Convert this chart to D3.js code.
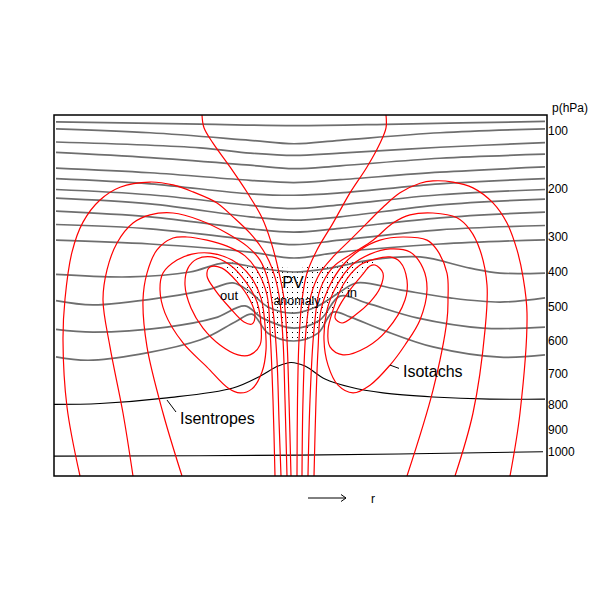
<!DOCTYPE html>
<html><head><meta charset="utf-8">
<script src="https://cdn.jsdelivr.net/npm/d3@7"></script>
<style>body{margin:0;background:#fff}svg{display:block}text{font-family:"Liberation Sans",Arial,sans-serif;fill:#000}</style>
</head><body><div id="chart"></div>
<script>
// ---------------- DATA (r: radial distance, arbitrary units; p: pressure hPa) ----------------
const pressureTicks = [100,200,300,400,500,600,700,800,900,1000];
const pressureKnots = [70,100,200,300,400,500,600,700,800,900,1000,1100];
const rExtent = [-240, 253];

// grey isentropes (top to bottom)
const isentropesGrey = [
  [[-238,83],[-94,87],[0,90],[106,87],[251,82]],
  [[-238,96],[-144,103],[-44,116],[0,122],[46,116],[146,103],[251,96]],
  [[-238,119],[-94,129],[-44,138],[0,142],[46,138],[146,128],[251,120]],
  [[-238,137],[-144,146],[-44,159],[0,165],[46,160],[146,147],[251,140]],
  [[-238,164],[-144,172],[-44,185],[0,189],[46,184],[146,171],[251,162]],
  [[-238,182],[-144,191],[-44,210],[0,213],[46,208],[146,191],[251,182]],
  [[-238,201],[-144,212],[-44,234],[0,241],[46,233],[146,212],[251,201]],
  [[-238,219],[-144,231],[-44,258],[0,265],[46,258],[146,233],[251,221]],
  [[-238,246],[-144,258],[-44,283],[0,290],[46,282],[146,260],[251,248]],
  [[-238,274],[-144,283],[-44,308],[0,322],[46,309],[146,285],[251,276]],
  [[-238,309],[-144,320],[-44,343],[0,360],[46,343],[146,320],[251,308]],
  [[-238,407],[-164,414],[-104,400],[-69,374],[-34,389],[0,400],[36,389],[76,366],[126,357],[176,389],[206,403],[251,403]],
  [[-238,482],[-201,494],[-127,471],[-84,449],[-61,431],[-44,457],[-26,500],[0,518],[24,497],[46,457],[63,431],[106,451],[156,474],[206,486],[251,474]],
  [[-238,566],[-201,574],[-127,559],[-79,532],[-49,497],[-32,532],[0,562],[26,538],[46,469],[73,489],[123,532],[189,562],[251,559]],
  [[-238,648],[-201,658],[-94,597],[-59,544],[-42,521],[-26,577],[0,600],[24,577],[39,515],[56,529],[89,568],[139,618],[206,649],[251,642]]
];
// black isentropes
const isentropesBlack = [
  [[-240,798],[-194,795],[-127,777],[-61,745],[-34,707],[-16,676],[-3,665],[11,676],[31,716],[56,742],[89,761],[139,774],[196,781],[251,781]],
  [[-240,1017],[6,1013],[249,999]]
];
// open isotachs
const isotachsOpen = [
  [[-92,70],[-90,94],[-81,121],[-64,162],[-46,210],[-32,260],[-23,314],[-16,389],[-10,477],[-7,597],[-5,784],[-3,1100]],
  [[92,70],[92,94],[86,121],[73,162],[56,208],[39,271],[23,337],[13,403],[8,480],[5,597],[3.5,784],[3,1100]],
  [[-214,1100],[-227,808],[-231,597],[-229,477],[-222,343],[-211,269],[-194,223],[-174,197],[-144,188],[-121,193],[-101,206],[-77,229],[-61,258],[-44,292],[-31,337],[-22,389],[-15,466],[-11,597],[-9,784],[-7,1100]],
  [[216,1100],[226,832],[233,518],[229,414],[223,337],[213,271],[199,229],[179,198],[159,188],[139,186],[126,190],[106,208],[89,238],[73,271],[56,309],[39,357],[26,403],[17,466],[12,568],[9,784],[8,1100]],
  [[-161,1100],[-171,832],[-184,618],[-191,480],[-187,394],[-177,317],[-161,271],[-144,254],[-121,250],[-94,265],[-67,292],[-47,326],[-34,366],[-26,423],[-21,509],[-17,658],[-15,860],[-13,1100]],
  [[161,1100],[179,832],[191,568],[193,437],[186,337],[176,285],[163,260],[139,250],[116,254],[99,271],[79,309],[59,346],[39,386],[26,451],[20,568],[16,784],[14,1100]],
  [[-112,1100],[-131,832],[-147,618],[-151,480],[-147,403],[-137,337],[-121,303],[-107,300],[-87,309],[-67,326],[-49,354],[-36,400],[-27,466],[-24,568],[-21,784],[-19,1100]],
  [[113,1100],[139,752],[153,538],[154,480],[153,403],[143,337],[133,309],[109,300],[86,309],[66,337],[49,380],[36,437],[27,509],[24,627],[22,784],[20,1100]]
];
// closed isotach loops (jet maxima)
const isotachsClosed = [
  [[-87,411],[-84,386],[-72,389],[-56,431],[-44,480],[-39,524],[-42,550],[-50,544],[-64,503],[-79,451]],
  [[-109,437],[-106,389],[-97,363],[-82,357],[-64,380],[-48,429],[-37,486],[-33,553],[-34,612],[-44,642],[-56,642],[-74,612],[-91,562],[-103,503]],
  [[-134,451],[-131,403],[-117,366],[-102,349],[-84,346],[-62,366],[-44,411],[-33,474],[-29,553],[-28,627],[-32,694],[-42,748],[-54,761],[-66,745],[-87,679],[-111,606],[-129,518]],
  [[81,380],[89,403],[86,446],[76,486],[61,524],[48,547],[41,532],[46,494],[56,451],[68,409],[76,383]],
  [[66,380],[81,363],[96,357],[106,371],[113,423],[111,480],[93,568],[73,618],[49,642],[36,618],[34,568],[39,509],[49,437]],
  [[58,380],[76,349],[96,334],[116,343],[129,389],[133,451],[126,538],[111,612],[96,673],[76,736],[59,761],[44,736],[34,673],[30,597],[33,509],[43,437]]
];
// PV anomaly outline
const pvAnomaly = [[-68,377],[-34,380],[0,389],[36,377],[82,369],[71,394],[56,431],[44,480],[31,544],[16,588],[0,600],[-16,591],[-29,553],[-41,494],[-54,440],[-64,400]];
// text annotations [label, r, p, size, anchor]
const labels = [
  ["PV", -1, 445, 16, "middle"],
  ["anomaly", 3, 494, 12.5, "middle"],
  ["out", -65, 480, 13, "middle"],
  ["in", 58, 471, 13, "middle"],
  ["Isotachs", 109, 710, 16, "start"],
  ["Isentropes", -114, 876, 16, "start"]
];
const leaders = [
  [[96,673],[105,683]],
  [[-127,784],[-118,828]]
];

// ---------------- CHART ----------------
const W = 600, H = 600;
const svg = d3.select("#chart").append("svg").attr("width", W).attr("height", H);
const x = d3.scaleLinear().domain(rExtent).range([54, 547]);
const y = d3.scaleLinear().domain(pressureKnots).range([115,131,189,237,272,307,341,374,405,430,452,476]);

const defs = svg.append("defs");
defs.append("clipPath").attr("id","frame").append("rect")
  .attr("x", x(rExtent[0])).attr("y", y(70)).attr("width", x(rExtent[1]) - x(rExtent[0])).attr("height", y(1100) - y(70));
const pat = defs.append("pattern").attr("id","dots").attr("patternUnits","userSpaceOnUse")
  .attr("width",5).attr("height",5);
pat.append("rect").attr("x",2).attr("y",2).attr("width",1).attr("height",1).attr("fill","#000");

const g = svg.append("g").attr("clip-path","url(#frame)");
const line = d3.line().x(d => x(d[0])).y(d => y(d[1])).curve(d3.curveCatmullRom.alpha(0.5));
const loop = d3.line().x(d => x(d[0])).y(d => y(d[1])).curve(d3.curveCatmullRomClosed.alpha(0.5));

g.append("path").attr("d", loop(pvAnomaly)).attr("fill","url(#dots)").attr("stroke","none");

g.selectAll(".isg").data(isentropesGrey).join("path").attr("class","isg")
  .attr("d", line).attr("fill","none").attr("stroke","#6e6e6e").attr("stroke-width",1.7);
g.selectAll(".isb").data(isentropesBlack).join("path").attr("class","isb")
  .attr("d", line).attr("fill","none").attr("stroke","#000").attr("stroke-width",1.1);
g.selectAll(".ito").data(isotachsOpen).join("path").attr("class","ito")
  .attr("d", line).attr("fill","none").attr("stroke","#ff0000").attr("stroke-width",1.2);
g.selectAll(".itc").data(isotachsClosed).join("path").attr("class","itc")
  .attr("d", loop).attr("fill","none").attr("stroke","#ff0000").attr("stroke-width",1.2);

svg.selectAll(".lead").data(leaders).join("path").attr("class","lead")
  .attr("d", d3.line().x(d => x(d[0])).y(d => y(d[1]))).attr("stroke","#000").attr("stroke-width",1).attr("fill","none");
svg.selectAll(".lbl").data(labels).join("text").attr("class","lbl")
  .attr("x", d => x(d[1])).attr("y", d => y(d[2])).attr("font-size", d => d[3]).attr("text-anchor", d => d[4])
  .text(d => d[0]);

// frame
svg.append("rect").attr("x", x(rExtent[0])).attr("y", y(70)).attr("width", x(rExtent[1]) - x(rExtent[0])).attr("height", y(1100) - y(70))
  .attr("fill","none").attr("stroke","#000").attr("stroke-width",1.5);

// pressure axis (right, labels only)
const ax = svg.append("g").attr("transform", `translate(${x(rExtent[1])},0)`)
  .call(d3.axisRight(y).tickValues(pressureTicks).tickSize(0).tickPadding(1).tickFormat(d3.format("d")));
ax.select(".domain").remove();
ax.selectAll("text").attr("font-size",12).attr("font-family","Liberation Sans, Arial, sans-serif").attr("fill","#000");
svg.append("text").attr("x", x(rExtent[1]) + 5).attr("y", y(70) - 3).attr("font-size",12).text("p(hPa)");

// r arrow
const ay = 498, ax0 = 308, ax1 = 346;
svg.append("line").attr("x1",ax0).attr("x2",ax1).attr("y1",ay).attr("y2",ay).attr("stroke","#000").attr("stroke-width",1);
svg.append("path").attr("d",`M${ax1-5},${ay-3.5}L${ax1},${ay}L${ax1-5},${ay+3.5}`).attr("fill","none").attr("stroke","#000").attr("stroke-width",1);
svg.append("text").attr("x",373).attr("y",503).attr("font-size",12).attr("text-anchor","middle").text("r");
</script></body></html>
